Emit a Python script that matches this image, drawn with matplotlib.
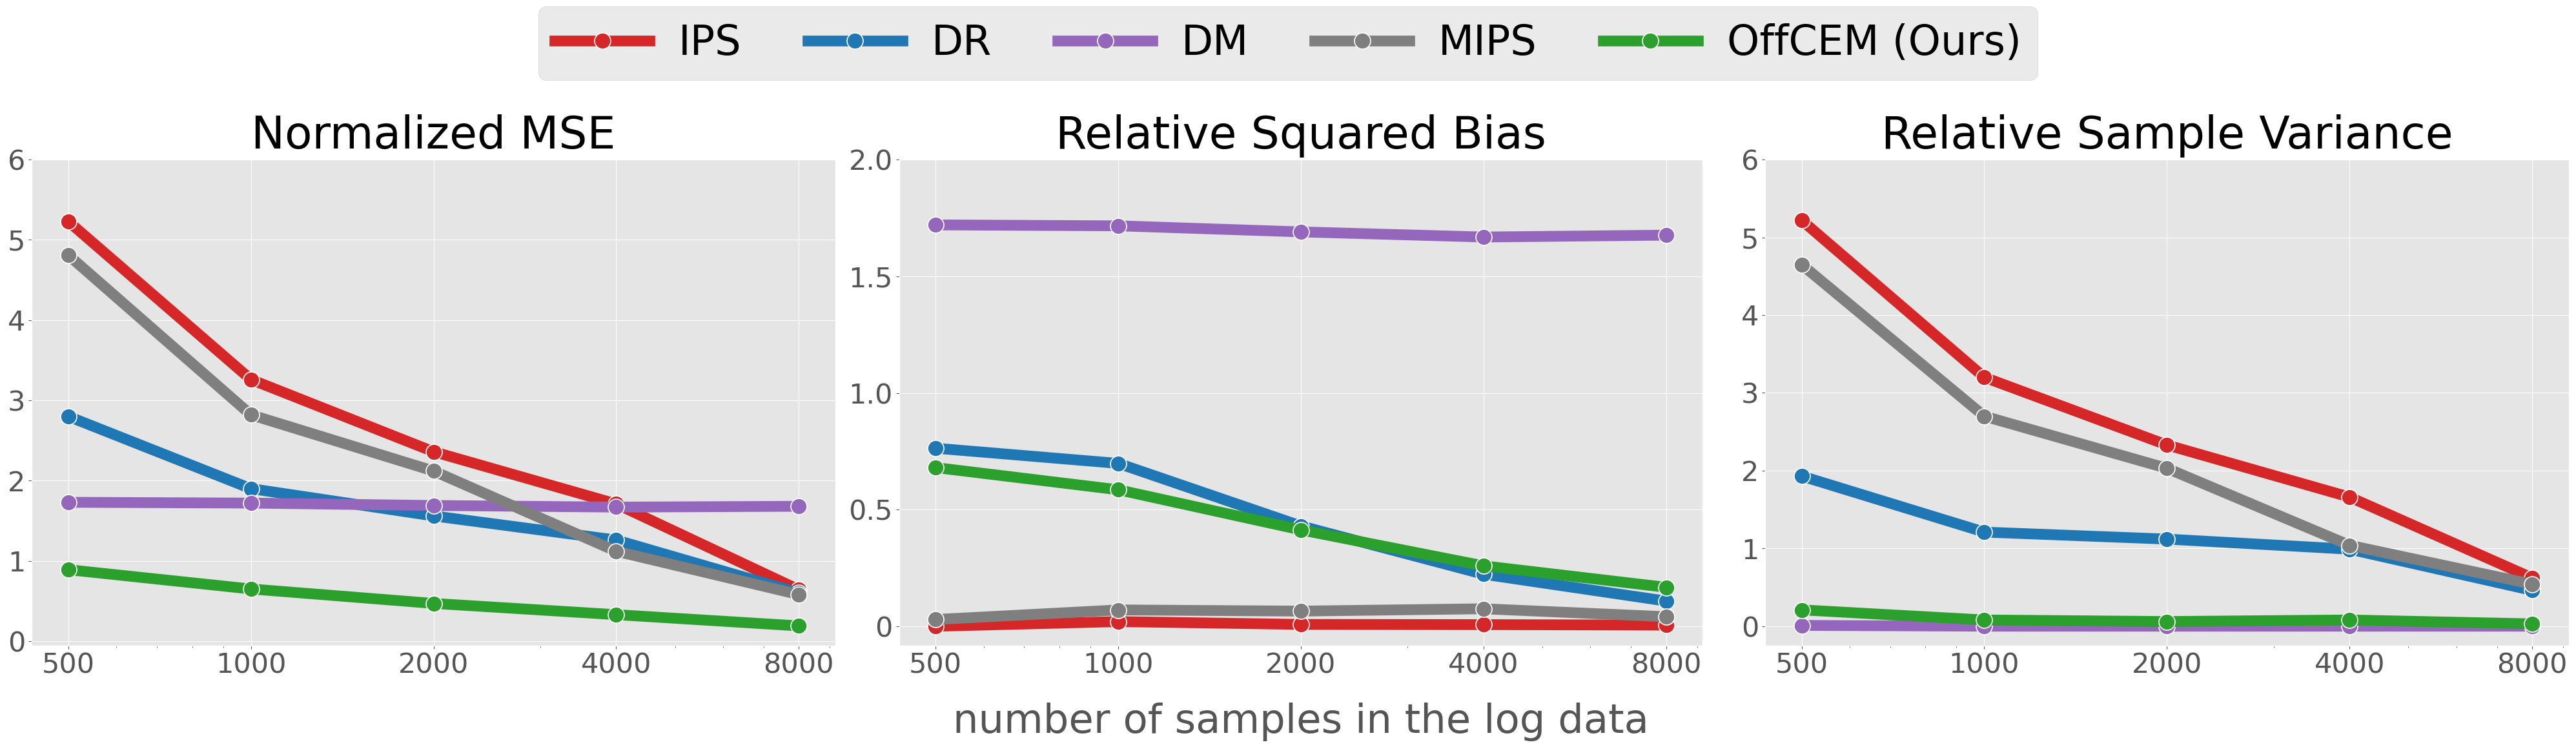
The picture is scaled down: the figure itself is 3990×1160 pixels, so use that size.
import matplotlib
matplotlib.use("Agg")
import matplotlib.pyplot as plt
import numpy as np

plt.style.use("ggplot")

n_samples = [500, 1000, 2000, 4000, 8000]
estimators = ["IPS", "DR", "DM", "MIPS", "OffCEM (Ours)"]
colors = ["tab:red", "tab:blue", "tab:purple", "tab:gray", "tab:green"]

# normalized mse
mse_ips = [5.23, 3.26, 2.36, 1.71, 0.64]
mse_dr = [2.80, 1.90, 1.56, 1.26, 0.60]
mse_dm = [1.73, 1.72, 1.69, 1.67, 1.68]
mse_mips = [4.81, 2.82, 2.12, 1.12, 0.58]
mse_offcem = [0.89, 0.65, 0.47, 0.33, 0.19]

# relative squared bias
bias_ips = [0.00, 0.02, 0.008, 0.007, 0.005]
bias_dr = [0.763, 0.698, 0.43, 0.223, 0.108]
bias_dm = [1.72, 1.716, 1.69, 1.668, 1.676]
bias_mips = [0.029, 0.07, 0.065, 0.075, 0.041]
bias_offcem = [0.68, 0.585, 0.413, 0.259, 0.167]

# relative sample variance
var_ips = [5.22, 3.20, 2.33, 1.66, 0.62]
var_dr = [1.93, 1.21, 1.12, 0.99, 0.46]
var_dm = [0.01, 0.0, 0.0, 0.0, 0.0]
var_mips = [4.65, 2.70, 2.03, 1.04, 0.54]
var_offcem = [0.21, 0.08, 0.06, 0.08, 0.03]

panels = [
    ("Normalized MSE", [mse_ips, mse_dr, mse_dm, mse_mips, mse_offcem]),
    ("Relative Squared Bias", [bias_ips, bias_dr, bias_dm, bias_mips, bias_offcem]),
    ("Relative Sample Variance", [var_ips, var_dr, var_dm, var_mips, var_offcem]),
]
ylims = [(-0.056, 6), (-0.083, 2.0), (-0.25, 6)]
yticks = [[0, 1, 2, 3, 4, 5, 6], [0, 0.5, 1.0, 1.5, 2.0], [0, 1, 2, 3, 4, 5, 6]]
yticklabels = [["0", "1", "2", "3", "4", "5", "6"],
               ["0", "0.5", "1.0", "1.5", "2.0"],
               ["0", "1", "2", "3", "4", "5", "6"]]

fig = plt.figure(figsize=(39.9, 11.6), dpi=100)
lefts = [0.0123, 0.349, 0.6852]
w = 0.312
axes = [fig.add_axes([l, 0.138, w, 0.649]) for l in lefts]

for i, (ax, (title, series)) in enumerate(zip(axes, panels)):
    for name, c, vals in zip(estimators, colors, series):
        ax.plot(n_samples, vals, color=c, lw=12, marker="o", markersize=18,
                markeredgecolor="white", markeredgewidth=1.2, label=name)
    ax.set_xscale("log")
    ax.set_xticks(n_samples)
    ax.set_xticklabels([str(n) for n in n_samples])
    ax.set_ylim(*ylims[i])
    ax.set_yticks(yticks[i])
    ax.set_yticklabels(yticklabels[i])
    ax.tick_params(axis="both", labelsize=31, colors="#555555")
    ax.tick_params(axis="x", which="minor", colors="#555555")
    ax.set_title(title, fontsize=50, color="black", pad=12)

axes[1].set_xlabel("number of samples in the log data", fontsize=45,
                   color="#555555", labelpad=26)

handles, labels = axes[0].get_legend_handles_labels()
fig.legend(handles, labels, loc="upper center", bbox_to_anchor=(0.5, 0.991),
           borderaxespad=0, ncol=5, fontsize=46, handlelength=2.3,
           handletextpad=0.7, columnspacing=1.6)

fig.savefig("out.png", dpi=100)
